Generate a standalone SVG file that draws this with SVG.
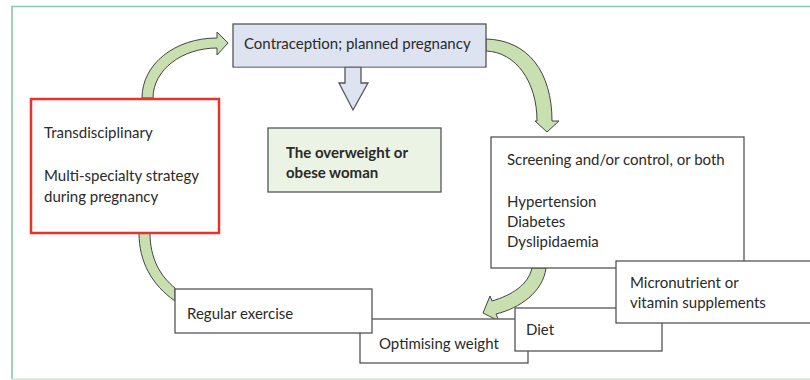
<svg xmlns="http://www.w3.org/2000/svg" width="810" height="380" viewBox="0 0 810 380">
<style>
.frame{stroke:#8cc9a6;stroke-width:1.6;fill:none}
.box{fill:#fff;stroke:#555;stroke-width:1.3}
.arr{fill:#c8e0b0;stroke:#444;stroke-width:1}
text{font-family:Lato,"Liberation Sans",sans-serif;font-size:15px;fill:#2a2a2a}
.b{font-weight:bold}
</style>
<rect width="810" height="380" fill="#fff"/>
<g id="frame">
<path class="frame" d="M12,379 V6.5 H810"/>
<rect x="12" y="378.3" width="798" height="1.7" fill="#d3e9da"/>
</g>
<g id="connectors">
<path class="arr" d="M142,98 C142,64 175,38 217,38 L217,32 L228,43 L217,55 L217,48 C182,48 153,70 153,98 Z"/>
<path class="arr" d="M486,39 C528,40 552,72 552,121 L559,121 L547,132 L535,121 L537,121 C537,82 516,52 486,51 Z"/>
<path class="arr" d="M139,233 C139,262 152,285 175,301 L175,288 C160,276 150,258 150,233 Z"/>
<path class="arr" d="M546,268 C543,292 520,308 496,314 L499,321 L483,313 L490,296 L492,301 C512,295 528,285 532,268 Z"/>
</g>
<g id="contraception">
<rect x="233" y="24" width="253" height="43" fill="#dde3f1" stroke="#555" stroke-width="1.3"/>
<polygon points="345,67 361,67 361,83 368,83 353,110 339,83 345,83" fill="#dde3f1" stroke="#555" stroke-width="1.3"/>
<rect x="234" y="60" width="251" height="6.5" fill="#dde3f1"/>
<text x="244" y="49">Contraception; planned pregnancy</text>
</g>
<g id="woman">
<rect x="268" y="128" width="173" height="64" fill="#ebf3e4" stroke="#555" stroke-width="1.3"/>
<text class="b" x="286" y="158">The overweight or</text>
<text class="b" x="286" y="178">obese woman</text>
</g>
<g id="transdisciplinary">
<rect x="31" y="99" width="188" height="134" fill="#fff" stroke="#e8322a" stroke-width="2.5"/>
<text x="44" y="138">Transdisciplinary</text>
<text x="44" y="181">Multi-specialty strategy</text>
<text x="44" y="202">during pregnancy</text>
</g>
<g id="screening">
<rect class="box" x="491" y="137" width="253" height="131"/>
<text x="507" y="165">Screening and/or control, or both</text>
<text x="507" y="207">Hypertension</text>
<text x="507" y="227">Diabetes</text>
<text x="507" y="247">Dyslipidaemia</text>
</g>
<g id="optimising">
<rect class="box" x="360" y="319" width="168" height="44"/>
<text x="379" y="349">Optimising weight</text>
</g>
<g id="exercise">
<rect class="box" x="175" y="289" width="197" height="44"/>
<text x="187" y="319">Regular exercise</text>
</g>
<g id="diet">
<rect class="box" x="515" y="308" width="147" height="43"/>
<text x="526" y="335">Diet</text>
</g>
<g id="micronutrient">
<rect class="box" x="616" y="261" width="200" height="62"/>
<text x="630" y="288">Micronutrient or</text>
<text x="630" y="308">vitamin supplements</text>
</g>
</svg>
